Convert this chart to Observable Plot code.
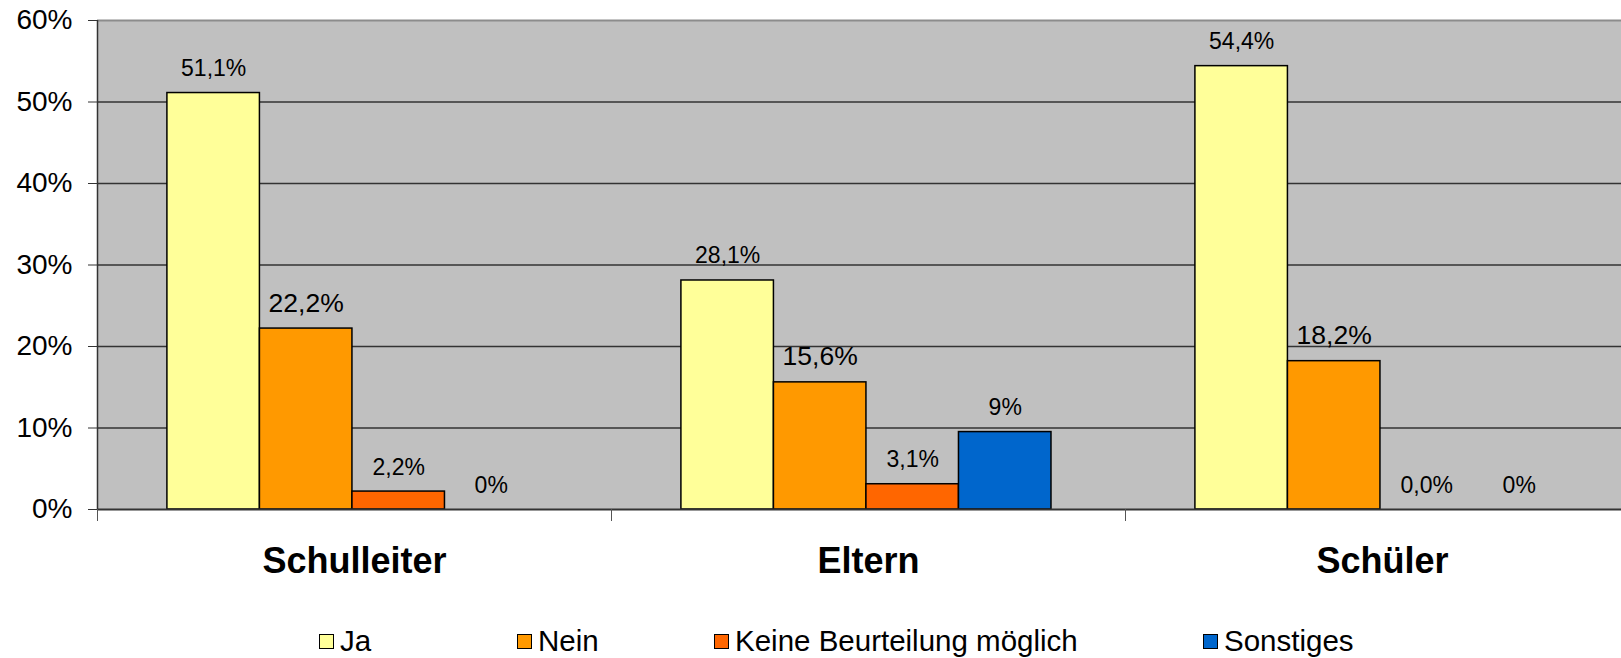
<!DOCTYPE html>
<html>
<head>
<meta charset="utf-8">
<script src="https://cdn.jsdelivr.net/npm/d3@7"></script>
<script src="https://cdn.jsdelivr.net/npm/@observablehq/plot@0.6"></script>
<style>
  html, body { margin: 0; padding: 0; background: #fff; overflow: hidden; width: 1621px; height: 658px; }
  #wrap { position: relative; width: 1621px; height: 658px; overflow: hidden; font-family: "Liberation Sans", Arial, sans-serif; }
  #legend { position: absolute; left: 0; top: 600px; width: 1621px; height: 58px; }
  .item { position: absolute; top: 0; height: 82px; display: flex; align-items: center; font-size: 29.5px; color: #000; white-space: nowrap; }
  .sw { width: 13px; height: 13px; border: 1.5px solid #000; margin-right: 6px; }
</style>
</head>
<body>
<div id="wrap"><div id="chart"></div><div id="legend"></div></div>
<script>
const groups = ["Schulleiter", "Eltern", "Schüler"];
const seriesNames = ["Ja", "Nein", "Keine Beurteilung möglich", "Sonstiges"];
const colors = ["#FFFF99", "#FF9900", "#FF6600", "#0066CC"];
const jaValues = [51.1, 28.1, 54.4];
const neinValues = [22.2, 15.6, 18.2];
const keineValues = [2.2, 3.1, 0];
const sonstigesValues = [0, 9.5, 0];
const jaLabels = ["51,1%", "28,1%", "54,4%"];
const neinLabels = ["22,2%", "15,6%", "18,2%"];
const keineLabels = ["2,2%", "3,1%", "0,0%"];
const sonstigesLabels = ["0%", "9%", "0%"];
const yTicks = [0, 10, 20, 30, 40, 50, 60];

const valueSets = [jaValues, neinValues, keineValues, sonstigesValues];
const labelSets = [jaLabels, neinLabels, keineLabels, sonstigesLabels];

// layout within each group (fractions of a group width)
const groupOffset = 0.136;
const barW = 0.18;

const data = [];
groups.forEach((g, gi) => {
  seriesNames.forEach((s, si) => {
    data.push({
      group: g, series: s, value: valueSets[si][gi], label: labelSets[si][gi],
      x1: gi + groupOffset + si * barW,
      x2: gi + groupOffset + (si + 1) * barW
    });
  });
});

const font = '"Liberation Sans", Arial, sans-serif';

const chart = Plot.plot({
  width: 1640,
  height: 600,
  marginLeft: 97,
  marginRight: 1,
  marginTop: 20,
  marginBottom: 91,
  style: { fontFamily: font, background: "#fff", overflow: "visible" },
  x: { domain: [0, groups.length], axis: null, label: null },
  y: { domain: [0, 60], axis: null, label: null },
  color: { domain: seriesNames, range: colors },
  marks: [
    Plot.frame({ fill: "#C0C0C0", stroke: null }),
    Plot.gridY(yTicks.slice(1, -1), { stroke: "#333", strokeOpacity: 1, strokeWidth: 1.5 }),
    Plot.ruleY([60], { stroke: "#8c8c8c", strokeWidth: 2 }),
    Plot.rectY(data, { x1: "x1", x2: "x2", y: "value", fill: "series", stroke: "#000", strokeWidth: 1.5 }),
    Plot.text(data, {
      x: d => (d.x1 + d.x2) / 2, y: "value", text: "label",
      lineAnchor: "bottom", dy: -17, fill: "#000",
      fontSize: d => d.series === "Nein" ? 26.5 : 23
    }),
    Plot.ruleY([0], { stroke: "#333", strokeWidth: 2 }),
    Plot.ruleX([0], { stroke: "#333", strokeWidth: 1.5 }),
    Plot.axisY({ ticks: yTicks, tickSize: 9, tickPadding: 16, tickFormat: d => d + "%", fontSize: 28, stroke: "#333", fill: "#000", label: null }),
    Plot.axisX({ ticks: [0, 1, 2, 3], tickSize: 12, tickFormat: () => "", stroke: "#555", label: null }),
    Plot.text(groups, {
      x: (d, i) => i + 0.5, y: 0, text: d => d,
      dy: 52, lineAnchor: "middle", fontSize: 36, fontWeight: "bold", fill: "#000"
    })
  ]
});
chart.style.maxWidth = "none";
document.getElementById("chart").appendChild(chart);

const legendLeft = [319, 517, 714, 1203];
const legend = document.getElementById("legend");
seriesNames.forEach((s, i) => {
  const it = document.createElement("div");
  it.className = "item";
  it.style.left = legendLeft[i] + "px";
  const sw = document.createElement("div");
  sw.className = "sw";
  sw.style.background = colors[i];
  const t = document.createElement("span");
  t.textContent = s;
  it.appendChild(sw); it.appendChild(t);
  legend.appendChild(it);
});
</script>
</body>
</html>
